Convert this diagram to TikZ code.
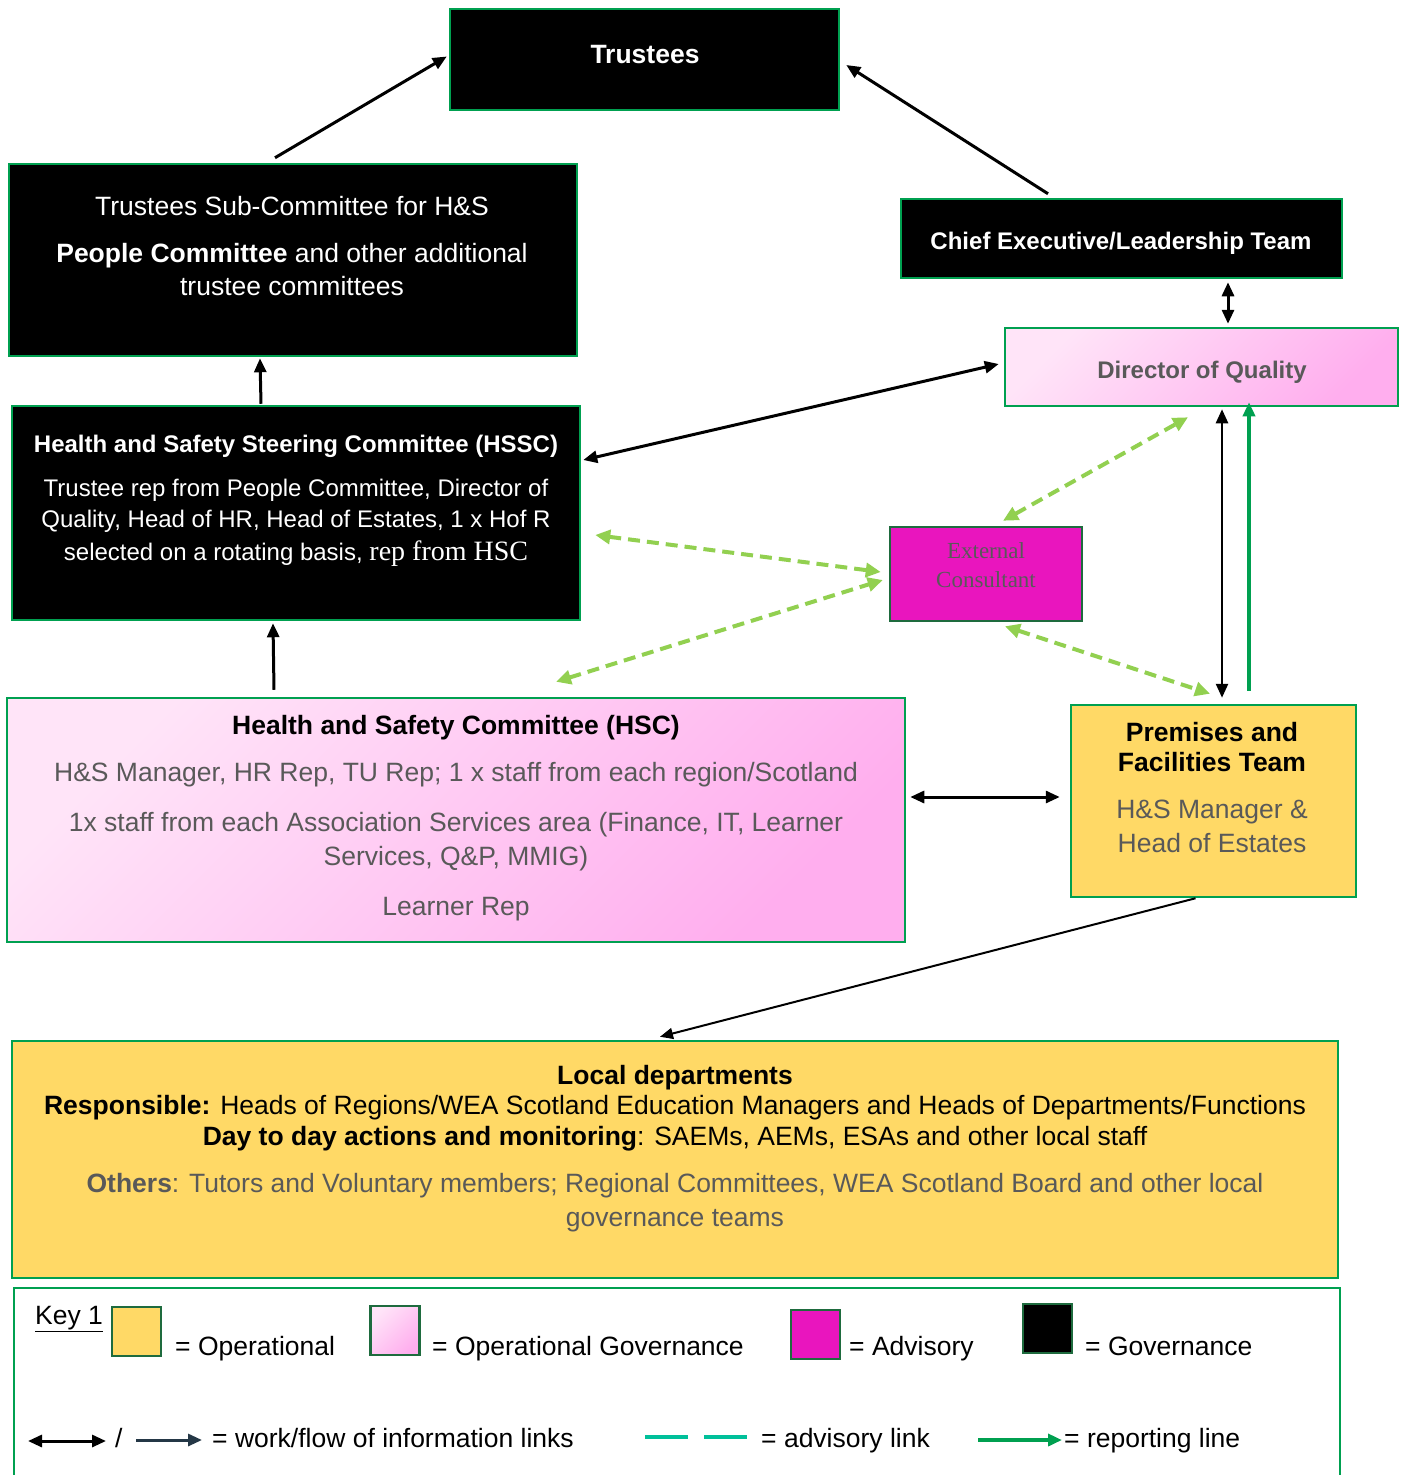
\documentclass[tikz,border=0pt]{standalone}
\usepackage{fontspec}
\setmainfont{Liberation Sans}
\newfontfamily\serifrm{Liberation Serif}
\usetikzlibrary{arrows.meta}
\definecolor{bgreen}{HTML}{00A050}
\definecolor{dgreen}{HTML}{1E6B3E}
\definecolor{gold}{HTML}{FFD966}
\definecolor{pinkA}{HTML}{FFE4F8}
\definecolor{pinkB}{HTML}{FFAEEE}
\definecolor{magen}{HTML}{E915BE}
\definecolor{txtgray}{HTML}{595959}
\definecolor{dashgreen}{HTML}{92D050}
\definecolor{keyteal}{HTML}{00C09A}
\definecolor{slate}{HTML}{243746}
\newcommand\fsa{\fontsize{26.5}{31}\selectfont}
\newcommand\fsb{\fontsize{24}{28}\selectfont}
\tikzset{
 box/.style={rectangle, draw=bgreen, line width=2.5pt, inner sep=0pt},
 gov/.style={box, fill=black},
 opg/.style={box, top color=pinkA, bottom color=pinkB, shading angle=45},
 ope/.style={box, fill=gold},
 adv/.style={box, fill=magen, draw=dgreen},
 keysq/.style={rectangle, draw=dgreen, line width=2.5pt, inner sep=0pt, minimum width=49pt, minimum height=49pt},
 txt/.style={anchor=base, inner sep=0pt, font=\fsa},
 wtxt/.style={txt, text=white},
 gtxt/.style={txt, text=txtgray},
 flow/.style={line width=3pt, -{Triangle[length=14pt,width=12pt]}},
 flowtwo/.style={line width=3pt, {Triangle[length=14pt,width=12pt]}-{Triangle[length=14pt,width=12pt]}},
 adlink/.style={draw=dashgreen, line width=4pt, dash pattern=on 12pt off 7pt, {Triangle[length=15pt,width=14pt]}-{Triangle[length=15pt,width=14pt]}},
 report/.style={draw=bgreen, line width=3.5pt, -{Triangle[length=14pt,width=12pt]}},
}
\begin{document}
\begin{tikzpicture}[x=1pt,y=-1pt]
\useasboundingbox (0,0) rectangle (1403,1475);
\clip (0,0) rectangle (1403,1475);
\fill[white] (0,0) rectangle (1403,1475);

% boxes
\node[gov, minimum width=389pt, minimum height=101pt] (trustees) at (644.5,59.5) {};
\node[gov, minimum width=568pt, minimum height=192pt] (sub) at (293,260) {};
\node[gov, minimum width=441pt, minimum height=79pt] (ceo) at (1121.5,238.5) {};
\node[opg, minimum width=393pt, minimum height=78pt] (doq) at (1201.5,367) {};
\node[gov, minimum width=568pt, minimum height=214pt] (hssc) at (296,513) {};
\node[adv, minimum width=192pt, minimum height=94pt] (ext) at (986,574) {};
\node[opg, minimum width=898pt, minimum height=244pt] (hsc) at (456,820) {};
\node[ope, minimum width=285pt, minimum height=192pt] (prem) at (1213.5,801) {};
\node[ope, minimum width=1326pt, minimum height=237pt] (local) at (675,1159.5) {};
\node[box, fill=white, minimum width=1326pt, minimum height=210pt] (key) at (677,1393) {};

% texts
\node[wtxt, font=\fsa\bfseries] (tT) at (645,63.5) {Trustees};
\node[wtxt] (sT1) at (292,215.5) {Trustees Sub-Committee for H\&S};
\node[wtxt] (sT2) at (292,262.5) {\textbf{People Committee} and other additional};
\node[wtxt] (sT3) at (292,295.5) {trustee committees};
\node[wtxt, font=\fsb\bfseries] (cT) at (1121,249.5) {Chief Executive/Leadership Team};
\node[gtxt, font=\fsb\bfseries] (dT) at (1202,378.6) {Director of Quality};
\node[wtxt, font=\fsb\bfseries] (hsT1) at (296,452.6) {Health and Safety Steering Committee (HSSC)};
\node[wtxt, font=\fsb] (hsT2) at (296,496.6) {Trustee rep from People Committee, Director of};
\node[wtxt, font=\fsb] (hsT3) at (296,527.6) {Quality, Head of HR, Head of Estates, 1 x Hof R};
\node[wtxt, font=\fsb] (hsT4) at (296,560.6) {selected on a rotating basis, {\serifrm\fontsize{28}{32}\selectfont rep from HSC}};
\node[gtxt, font=\serifrm\fontsize{23}{27}\selectfont] (eT1) at (986,558.5) {External};
\node[gtxt, font=\serifrm\fontsize{23}{27}\selectfont] (eT2) at (986,587.5) {Consultant};
\node[txt, font=\fsa\bfseries] (cT1) at (456,734.5) {Health and Safety Committee (HSC)};
\node[gtxt] (cT2) at (456,781.5) {H\&S Manager, HR Rep, TU Rep; 1 x staff from each region/Scotland};
\node[gtxt] (cT3) at (456,831.5) {1x staff from each Association Services area (Finance, IT, Learner};
\node[gtxt] (cT4) at (456,865.5) {Services, Q\&P, MMIG)};
\node[gtxt] (cT5) at (456,915.5) {Learner Rep};
\node[txt, font=\fsa\bfseries] (pT1) at (1212,741.5) {Premises and};
\node[txt, font=\fsa\bfseries] (pT2) at (1212,771.5) {Facilities Team};
\node[gtxt] (pT3) at (1212,818.5) {H\&S Manager \&};
\node[gtxt] (pT4) at (1212,852.5) {Head of Estates};
\node[txt, font=\fsa\bfseries] (lT1) at (675,1084.5) {Local departments};
\node[txt] (lT2) at (675,1114.5) {\textbf{Responsible:} Heads of Regions/WEA Scotland Education Managers and Heads of Departments/Functions};
\node[txt] (lT3) at (675,1145.5) {\textbf{Day to day actions and monitoring}: SAEMs, AEMs, ESAs and other local staff};
\node[gtxt] (lT4) at (675,1192.5) {\textbf{Others}: Tutors and Voluntary members; Regional Committees, WEA Scotland Board and other local};
\node[gtxt] (lT5) at (675,1226.5) {governance teams};

% connectors
\draw[flow] ([shift={(-18,-5)}]sub.north) -- ([shift={(-2,-3)}]trustees.west);
\draw[flow] ([shift={(-73.5,-4)}]ceo.north) -- ([shift={(6,5.5)}]trustees.east);
\draw[flow] ([shift={(-35,-1)}]hssc.north) -- ([shift={(-33,1)}]sub.south);
\draw[flow] ([shift={(-182,-7)}]hsc.north) -- ([shift={(-23,2)}]hssc.south);
\draw[flowtwo] ([shift={(106.5,3)}]ceo.south) -- ([shift={(26.5,-3)}]doq.north);
\draw[flowtwo] ([shift={(2,-53)}]hssc.east) -- ([shift={(-5,-3)}]doq.west);
\draw[flowtwo, line width=2.5pt] ([shift={(20.5,2)}]doq.south) -- ([shift={(8.5,-6)}]prem.north);
\draw[report] ([shift={(35.5,-13)}]prem.north) -- ([shift={(47.5,-5)}]doq.south);
\draw[adlink] ([shift={(17,-5)}]ext.north) -- ([shift={(-13.5,10)}]doq.south);
\draw[adlink] ([shift={(14,22)}]hssc.east) -- ([shift={(-8,-2)}]ext.west);
\draw[adlink] ([shift={(100,-15)}]hsc.north) -- ([shift={(-6,6)}]ext.west);
\draw[adlink] ([shift={(19,4)}]ext.south) -- ([shift={(-3.5,-10)}]prem.north);
\draw[flowtwo] ([shift={(4,-23)}]hsc.east) -- ([shift={(-10,-4)}]prem.west);
\draw[line width=2pt, -{Triangle[length=13pt,width=11pt]}] ([shift={(-18,0)}]prem.south) -- ([shift={(-15,-3)}]local.north);

% key
\node[txt, anchor=base west] (k1) at (35,1324.5) {\underline{Key 1}};
\node[keysq, fill=gold] (kY) at (136.5,1331.5) {};
\node[keysq, top color=pinkA, bottom color=pinkB, shading angle=45] (kP) at (395,1330.5) {};
\node[keysq, fill=magen] (kM) at (815.5,1334.5) {};
\node[keysq, fill=black] (kB) at (1047.5,1328.5) {};
\node[txt, anchor=base west] (kt1) at (175,1355.5) {= Operational};
\node[txt, anchor=base west] (kt2) at (432,1355.5) {= Operational Governance};
\node[txt, anchor=base west] (kt3) at (849,1355.5) {= Advisory};
\node[txt, anchor=base west] (kt4) at (1085,1355.5) {= Governance};
\coordinate (a1) at (28,1441);
\coordinate (a2) at (106,1441);
\coordinate (b1) at (136,1440);
\coordinate (b2) at (202,1440);
\coordinate (c1) at (645,1437);
\coordinate (c2) at (688,1437);
\coordinate (c3) at (704,1437);
\coordinate (c4) at (747,1437);
\coordinate (d1) at (978,1440);
\coordinate (d2) at (1062,1440);
\draw[flowtwo, line width=3pt] (a1) -- (a2);
\node[txt, anchor=base west] (ks) at (115,1447.5) {/};
\draw[draw=slate, line width=3pt, -{Triangle[length=14pt,width=12pt]}] (b1) -- (b2);
\node[txt, anchor=base west] (kt5) at (212,1447.5) {= work/flow of information links};
\draw[keyteal, line width=4pt] (c1) -- (c2);
\draw[keyteal, line width=4pt] (c3) -- (c4);
\node[txt, anchor=base west] (kt6) at (761,1447.5) {= advisory link};
\draw[report] (d1) -- (d2);
\node[txt, anchor=base west] (kt7) at (1064,1447.5) {= reporting line};
\end{tikzpicture}
\end{document}
